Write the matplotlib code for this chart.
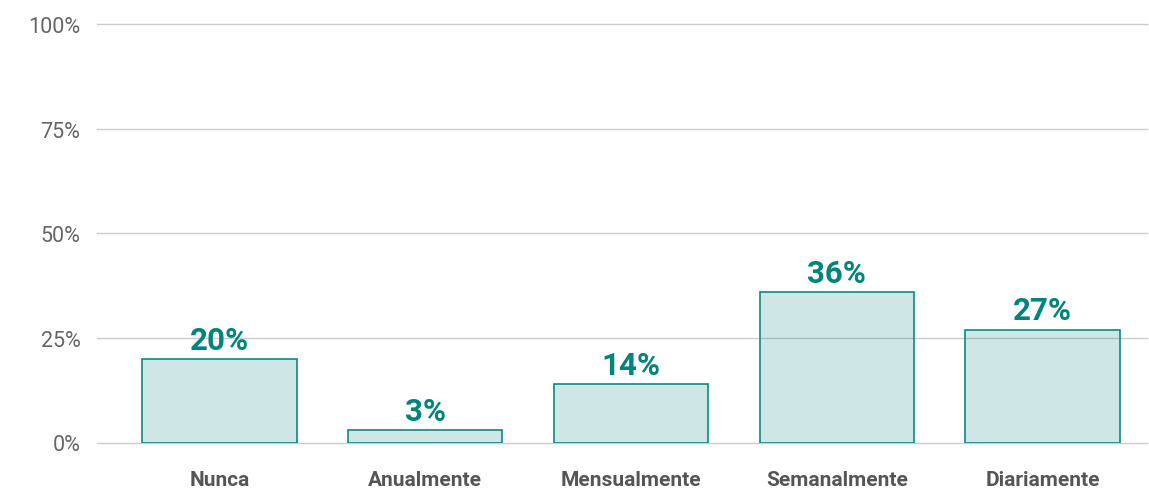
import matplotlib
matplotlib.use("Agg")
import matplotlib.pyplot as plt
from matplotlib.ticker import FuncFormatter

categories = ["Nunca", "Anualmente", "Mensualmente", "Semanalmente", "Diariamente"]
values = [20, 3, 14, 36, 27]
y_ticks = [0, 25, 50, 75, 100]

teal = "#0b8a82"
plt.rcParams["font.family"] = ["Roboto", "DejaVu Sans"]

fig = plt.figure(figsize=(11.49, 4.89), dpi=100)
bottom_px, top_px = 443.5, 25
ax = fig.add_axes([97 / 1149, 1 - bottom_px / 489, (1147 - 97) / 1149,
                   (bottom_px - top_px) / 489])

x = list(range(len(categories)))
ax.bar(x, values, width=0.75, facecolor=(0.04, 0.54, 0.51, 0.2),
       edgecolor=teal, linewidth=1.2, zorder=2)

for xi, v in zip(x, values):
    ax.annotate(f"{v}%", (xi, v), xytext=(0, 3), textcoords="offset points",
                ha="center", va="bottom", fontsize=22.5, fontweight="bold",
                color="#00857d", zorder=3)

ax.set_ylim(0, 100)
ax.set_xlim(-0.595, len(categories) - 1 + 0.507)
ax.set_yticks(y_ticks)
ax.yaxis.set_major_formatter(FuncFormatter(lambda v, _: f"{v:.0f}%"))
ax.set_xticks(x)
ax.set_xticklabels(categories, fontsize=15, fontweight="bold", color="#555555")
ax.tick_params(axis="x", length=0, pad=19.5)
ax.tick_params(axis="y", length=0, pad=12, labelsize=15.5, labelcolor="#666666")
ax.grid(axis="y", color="#cccccc", linewidth=1, zorder=0)
for gl in ax.get_ygridlines():
    gl.set_clip_on(False)
ax.set_axisbelow(True)
for s in ax.spines.values():
    s.set_visible(False)

fig.savefig("out.png", dpi=100)
